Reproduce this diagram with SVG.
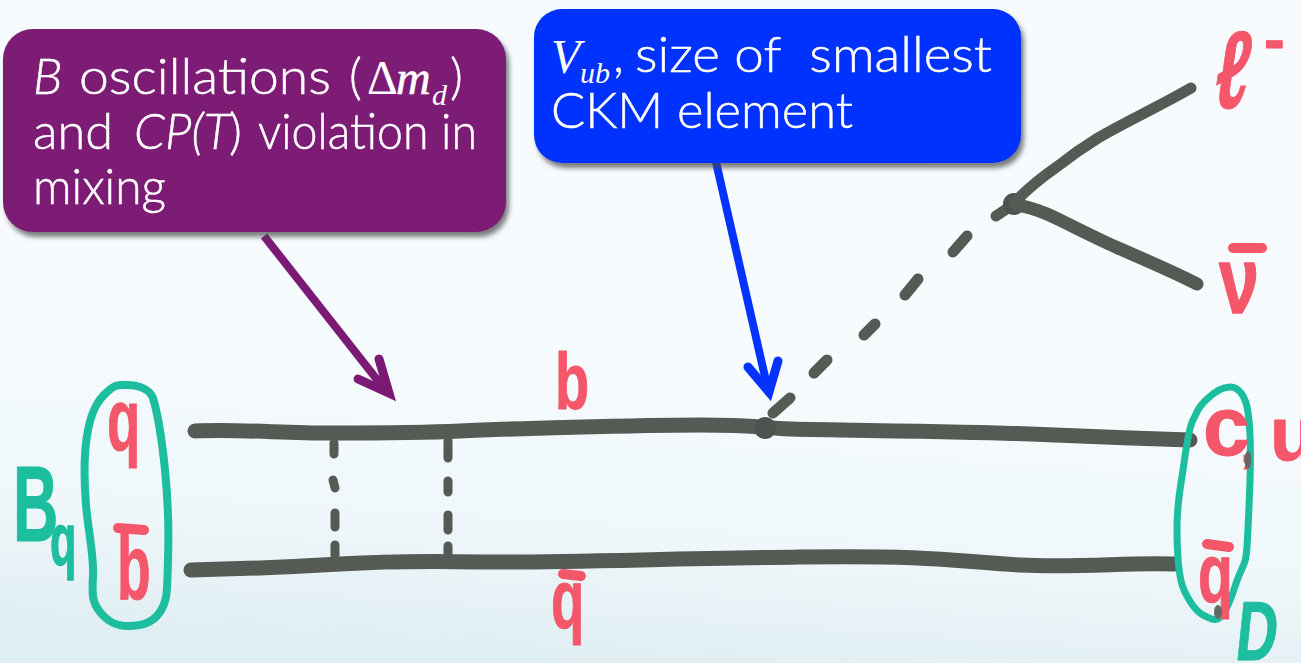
<svg xmlns="http://www.w3.org/2000/svg" width="1301" height="663" viewBox="0 0 1301 663">
<style>
.t{font-family:"Lato","Open Sans","Liberation Sans",sans-serif;font-weight:300;font-size:50px;fill:#fff;stroke:#fff;stroke-width:.5}
.i{font-style:italic}
.m{font-family:"Liberation Serif",serif;font-size:48px;fill:#fff}
.s{font-family:"Liberation Serif",serif;font-style:italic;font-size:30px;fill:#fff}
.ink{fill:none;stroke:#565a55;stroke-linecap:round;stroke-linejoin:round}
.r,.g{font-family:"Liberation Sans",sans-serif;font-weight:700;stroke-linejoin:round}
.r{fill:#f4566a;stroke:#f4566a;stroke-width:1}
.g{fill:#1dbd9f;stroke:#1dbd9f;stroke-width:1}
.bar{fill:none;stroke:#f4566a;stroke-width:10;stroke-linecap:round}
.oval{fill:none;stroke:#1dbd9f;stroke-linejoin:round}
.dim{fill:#5f6a66}
</style>
<defs>
<linearGradient id="bg" x1="0.55" y1="0" x2="0.42" y2="1">
<stop offset="0" stop-color="#f7fbfe"/><stop offset="0.55" stop-color="#f6fbfd"/><stop offset="0.8" stop-color="#eff7fa"/><stop offset="1" stop-color="#dfeef2"/>
</linearGradient>
<filter id="sh" x="-5%" y="-10%" width="112%" height="125%"><feDropShadow dx="3" dy="5" stdDeviation="2.5" flood-color="#444" flood-opacity="0.7"/></filter>
</defs>
<rect width="1301" height="663" fill="url(#bg)"/>

<g id="connectors">
<path class="ink" stroke-width="15" d="M195 431C240 429 280 433 330 433S420 433 460 431S640 425 700 425S760 428 790 429S960 431 1030 434S1130 438 1190 440"/>
<path class="ink" stroke-width="15" d="M191 570C240 569 290 567 340 564S430 561 480 562S660 559 800 557S960 562 1020 565S1130 562 1174 564"/>
<g class="ink" stroke-width="9">
<path d="M334 443V454M333 480L335 488M335 513V527M335 545V556"/>
<path d="M448 441V458M448 481V492M448 515V530M448 546V560"/>
</g>
<path class="ink" stroke-width="11" d="M773 413L790 398M814 373L827 360M864 335L875 324M905 295L918 279M953 252L967 236M996 216L1014 204"/>
<circle cx="765" cy="428" r="11" fill="#4d524e"/>
<circle cx="1014" cy="204" r="11" fill="#4d524e"/>
<path class="ink" stroke-width="11" d="M1014 203C1030 186 1042 177 1058 166C1072 155 1085 146 1098 138C1125 122 1160 106 1191 88"/>
<path class="ink" stroke-width="13" d="M1018 205C1040 210 1050 215 1068 224S1100 240 1118 248S1170 270 1197 284"/>
<path fill="none" stroke="#7b1a74" stroke-width="8" d="M264 236L386 391"/>
<path fill="none" stroke="#7b1a74" stroke-width="9" stroke-linecap="round" d="M358 379L389 393L379 359"/>
<path fill="none" stroke="#0433ff" stroke-width="8" d="M716 162L768 390"/>
<path fill="none" stroke="#0433ff" stroke-width="9" stroke-linecap="round" d="M748 367L769 392L778 361"/>
</g>

<g id="callout-mixing">
<rect x="3" y="29" width="503" height="203" rx="30" fill="#7b1a74" filter="url(#sh)"/>
<text class="t i" x="33" y="94">B</text>
<text class="t" x="79" y="94" textLength="252" lengthAdjust="spacingAndGlyphs">oscillations</text>
<text class="t" x="349" y="94">(</text>
<text class="m" x="367" y="94">Δ</text>
<text class="m" x="396" y="94" font-style="italic" stroke="#fff" stroke-width=".6">m</text>
<text class="s" x="432" y="105">d</text>
<text class="t" x="450" y="94">)</text>
<text class="t" x="33" y="149" textLength="80" lengthAdjust="spacingAndGlyphs">and</text>
<text class="t i" x="134" y="149" textLength="96" lengthAdjust="spacingAndGlyphs">CP(T</text>
<text class="t" x="229" y="149">)</text>
<text class="t" x="258" y="149" textLength="219" lengthAdjust="spacingAndGlyphs">violation in</text>
<text class="t" x="33" y="204" textLength="133" lengthAdjust="spacingAndGlyphs">mixing</text>
</g>

<g id="callout-vub">
<rect x="534" y="9" width="487" height="154" rx="28" fill="#0433ff" filter="url(#sh)"/>
<text class="m" x="551" y="73" font-style="italic">V</text>
<text class="s" x="580" y="83">ub</text>
<text class="t" x="613" y="72">,</text>
<text class="t" x="635" y="72" textLength="357" lengthAdjust="spacingAndGlyphs" xml:space="preserve">size of  smallest</text>
<text class="t" x="551" y="128" textLength="302" lengthAdjust="spacingAndGlyphs">CKM element</text>
</g>

<g id="meson-bq">
<path class="oval" stroke-width="8" d="M127 385C140 385 150 390 153 398C158 415 162 440 165 470S169 530 168 560S168 600 160 612S140 626 128 626S108 622 100 612S92 595 93 575S88 530 86 505S84 450 88 430S98 400 107 392S118 385 127 385Z"/>
<text class="g" font-size="108" transform="translate(13 541) scale(.58 1)">B</text>
<text class="g" font-size="60" transform="translate(50 565) scale(.72 1.25)">q</text>
<text class="r" font-size="88" transform="translate(107 450) scale(.62 1)">q</text>
<path class="bar" d="M118 528L144 530"/>
<text class="r" font-size="92" transform="translate(117 599) scale(.6 1)">b</text>
</g>

<g id="quark-b"><text class="r" font-size="80" transform="translate(555 409) scale(.7 1)">b</text></g>
<g id="quark-qbar">
<path class="bar" d="M563 574L581 576"/>
<text class="r" font-size="84" transform="translate(551 628) scale(.65 1)">q</text>
</g>

<g id="meson-d">
<path class="oval" stroke-width="7" d="M1230 387C1240 387 1246 398 1248 412S1251 450 1250 480S1248 530 1247 547S1243 565 1238 578S1230 605 1223 614S1212 619 1205 616S1190 603 1184 590S1177 550 1177 527S1180 490 1183 470S1188 430 1193 420S1198 408 1206 400S1222 387 1230 387Z"/>
<text class="r" font-size="84" transform="translate(1203 455)">c</text>
<text class="r" font-size="44" transform="translate(1241 462)">,</text>
<ellipse class="dim" cx="1248" cy="460" rx="3.5" ry="9"/>
<text class="r" font-size="76" transform="translate(1270 460)">u</text>
<path class="bar" stroke-width="13" d="M1207 544L1229 547"/>
<text class="r" font-size="84" transform="translate(1198 602) scale(.68 1)">q</text>
<ellipse class="dim" cx="1218" cy="612" rx="4" ry="7"/>
<text class="g" font-size="84" transform="translate(1234 660) skewX(-6) scale(.68 1)">D</text>
</g>

<g id="lepton"><text class="r" font-size="110" transform="translate(1212 108) skewX(-8) scale(.62 1)" font-family="DejaVu Sans" font-weight="400" stroke-width="2">ℓ</text>
<text class="r" font-size="62" transform="translate(1264 60)">-</text></g>
<g id="neutrino">
<path class="bar" stroke-width="15" d="M1233 248L1262 248"/>
<text class="r" font-size="72" transform="translate(1219 313) scale(1 1.3)" font-family="DejaVu Sans">ν</text>
</g>
</svg>
